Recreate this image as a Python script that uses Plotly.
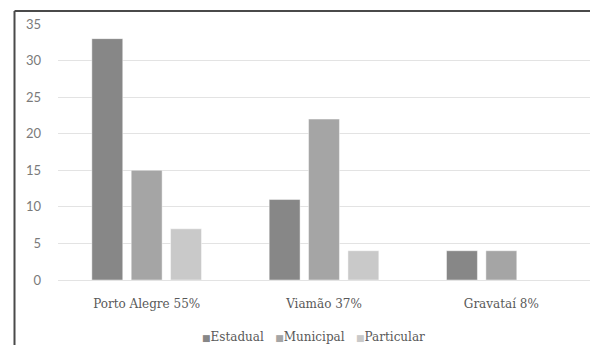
import plotly.graph_objects as go

# Schools per municipality, split by administrative network
categories = ["Porto Alegre 55%", "Viamão 37%", "Gravataí 8%"]
estadual = [33, 11, 4]
municipal = [15, 22, 4]
particular = [7, 4, 0]
y_ticks = [0, 5, 10, 15, 20, 25, 30, 35]

W, H = 590, 345
ML, MR, MT, MB = 58, 0, 24, 65
pw, ph = W - ML - MR, H - MT - MB


def px_x(v):
    return (v - ML) / pw


def px_y(v):
    return (H - MB - v) / ph


serif = "DejaVu Serif"
sans = "Lato"
txt = "#595959"

series = [
    ("Estadual", estadual, "#878787"),
    ("Municipal", municipal, "#a5a5a5"),
    ("Particular", particular, "#c9c9c9"),
]

fig = go.Figure()
for name, vals, col in series:
    fig.add_trace(go.Bar(
        x=categories, y=vals, name=name, showlegend=False,
        marker=dict(color=col, line=dict(color="rgba(255,255,255,0.45)", width=1)),
    ))

# compact legend row: small coloured square right before each label
legend_text = "&nbsp;&nbsp;&nbsp;".join(
    f'<span style="color:{col}; font-size:9px">■</span>{name}'
    for name, _, col in series
)

fig.update_layout(
    width=W, height=H,
    margin=dict(l=ML, r=MR, t=MT, b=MB, autoexpand=False),
    paper_bgcolor="white", plot_bgcolor="white",
    barmode="group", bargap=0.334, bargroupgap=0.215,
    xaxis=dict(
        showgrid=False, showline=False, ticks="",
        tickfont=dict(family=serif, size=12, color=txt),
        ticklabelstandoff=15,
    ),
    yaxis=dict(
        range=[0, 35], tickvals=y_ticks,
        showgrid=True, gridcolor="#e3e3e3", gridwidth=1,
        zeroline=True, zerolinecolor="#e3e3e3", zerolinewidth=1,
        showline=False, ticks="",
        tickfont=dict(family=sans, size=13, color="#7a7a7a"),
        ticklabelstandoff=16,
    ),
    annotations=[
        dict(text=legend_text, xref="paper", yref="paper",
             x=px_x(313), y=px_y(337), xanchor="center", yanchor="middle",
             showarrow=False,
             font=dict(family=serif, size=12, color=txt)),
    ],
    shapes=[
        # frame edges around the chart box
        dict(type="line", xref="paper", yref="paper",
             x0=px_x(14.5), x1=px_x(592), y0=px_y(11), y1=px_y(11),
             line=dict(color="#4a4a4a", width=2)),
        dict(type="line", xref="paper", yref="paper",
             x0=px_x(14.5), x1=px_x(14.5), y0=px_y(11), y1=px_y(347),
             line=dict(color="#4a4a4a", width=2)),
    ],
)

fig.write_html("out.html")
